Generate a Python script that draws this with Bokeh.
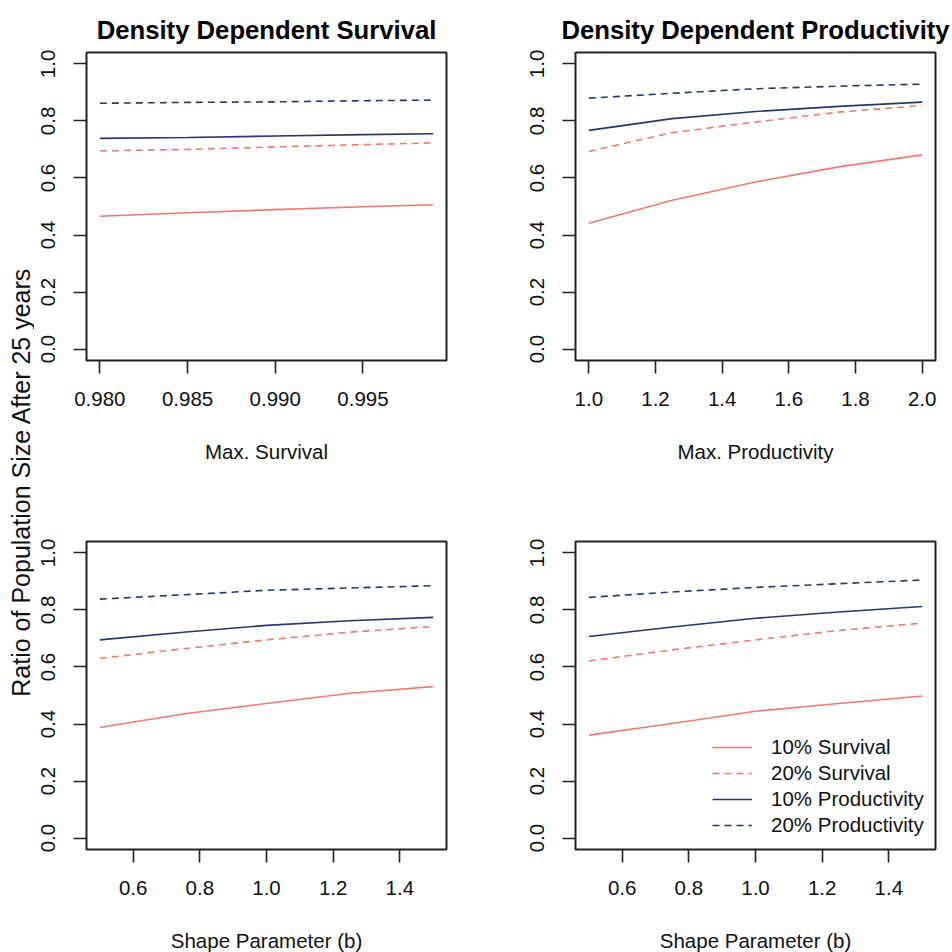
import math
from bokeh.plotting import figure
from bokeh.models import Range1d, FixedTicker, NumeralTickFormatter, Legend, LegendItem
from bokeh.layouts import row, column
from bokeh.embed import file_html
from bokeh.resources import INLINE
from bokeh.core.properties import value

FONT = "Liberation Sans"
SALMON = "#EE7B71"
NAVY = "#27366E"

# ---------------- data ----------------
series_labels = ["10% Survival", "20% Survival", "10% Productivity", "20% Productivity"]
y_label = "Ratio of Population Size After 25 years"
y_ticks = [0.0, 0.2, 0.4, 0.6, 0.8, 1.0]

# Panel 1: Density Dependent Survival
max_survival = [0.980, 0.985, 0.990, 0.995, 0.999]
ms_surv10 = [0.466, 0.478, 0.489, 0.499, 0.506]
ms_surv20 = [0.695, 0.700, 0.709, 0.717, 0.723]
ms_prod10 = [0.739, 0.742, 0.747, 0.752, 0.755]
ms_prod20 = [0.862, 0.865, 0.867, 0.871, 0.873]
ms_ticks = [0.980, 0.985, 0.990, 0.995]

# Panel 2: Density Dependent Productivity
max_productivity = [1.0, 1.25, 1.5, 1.75, 2.0]
mp_surv10 = [0.441, 0.522, 0.586, 0.639, 0.681]
mp_surv20 = [0.693, 0.759, 0.796, 0.831, 0.854]
mp_prod10 = [0.767, 0.808, 0.833, 0.851, 0.866]
mp_prod20 = [0.880, 0.897, 0.913, 0.922, 0.929]
mp_ticks = [1.0, 1.2, 1.4, 1.6, 1.8, 2.0]

# Panel 3: Shape parameter (survival)
shape_b = [0.5, 0.75, 1.0, 1.25, 1.5]
bs_surv10 = [0.388, 0.435, 0.472, 0.508, 0.531]
bs_surv20 = [0.630, 0.664, 0.695, 0.722, 0.742]
bs_prod10 = [0.695, 0.722, 0.746, 0.762, 0.774]
bs_prod20 = [0.838, 0.853, 0.869, 0.877, 0.885]

# Panel 4: Shape parameter (productivity)
bp_surv10 = [0.361, 0.402, 0.445, 0.472, 0.498]
bp_surv20 = [0.621, 0.660, 0.695, 0.728, 0.754]
bp_prod10 = [0.707, 0.740, 0.771, 0.793, 0.812]
bp_prod20 = [0.844, 0.863, 0.879, 0.892, 0.905]
b_ticks = [0.6, 0.8, 1.0, 1.2, 1.4]

series_colors = [SALMON, SALMON, NAVY, NAVY]
series_dash = ["solid", "7 5", "solid", "7 5"]


def pad_range(x):
    lo, hi = min(x), max(x)
    d = (hi - lo) * 0.04
    return lo - d, hi + d


def make_panel(x, ys, xticks, xfmt, title, xlabel, borders, legend=False):
    left, right, top, bottom = borders
    xr = pad_range(x)
    p = figure(frame_width=360, frame_height=308,
               min_border_left=left, min_border_right=right,
               min_border_top=top, min_border_bottom=bottom,
               x_range=Range1d(*xr), y_range=Range1d(-0.04, 1.04),
               toolbar_location=None, output_backend="svg",
               background_fill_color="white", border_fill_color="white")
    if title:
        p.title.text = title
        p.title.text_font = FONT
        p.title.text_font_size = "25.7px"
        p.title.text_font_style = "bold"
        p.title.text_color = "black"
        p.title.align = "center"
        p.title.standoff = 18
    p.grid.visible = False
    p.outline_line_color = "#222222"
    p.outline_line_width = 2

    for ax in (p.xaxis[0], p.yaxis[0]):
        ax.axis_line_color = None
        ax.major_tick_line_color = "#222222"
        ax.major_tick_line_width = 1.6
        ax.major_tick_out = 13
        ax.major_tick_in = 0
        ax.minor_tick_line_color = None
        ax.major_label_text_font = FONT
        ax.major_label_text_font_size = "20.5px"
        ax.major_label_text_color = "#111111"

    p.xaxis.ticker = FixedTicker(ticks=xticks)
    p.xaxis.formatter = NumeralTickFormatter(format=xfmt)
    p.xaxis.major_label_standoff = 18
    p.xaxis.axis_label = xlabel
    p.xaxis.axis_label_text_font = FONT
    p.xaxis.axis_label_text_font_size = "20.5px"
    p.xaxis.axis_label_text_font_style = "normal"
    p.xaxis.axis_label_text_color = "#111111"
    p.xaxis.axis_label_standoff = 31

    p.yaxis.ticker = FixedTicker(ticks=y_ticks)
    p.yaxis.formatter = NumeralTickFormatter(format="0.0")
    p.yaxis.major_label_orientation = "parallel"
    p.yaxis.major_label_standoff = 18

    renderers = []
    for yv, c, d in zip(ys, series_colors, series_dash):
        r = p.line(x, yv, line_color=c, line_width=1.6, line_dash=d)
        renderers.append(r)

    if legend:
        lg = Legend(items=[LegendItem(label=lbl, renderers=[r])
                           for lbl, r in zip(series_labels, renderers)],
                    location=(137, 12), border_line_color=None,
                    background_fill_alpha=0, padding=0, margin=0, spacing=2,
                    glyph_width=40, glyph_height=20, label_height=20,
                    label_standoff=19, label_text_font=FONT,
                    label_text_font_size="20.5px", label_text_color="#111111")
        p.add_layout(lg)
    return p


p1 = make_panel(max_survival, [ms_surv10, ms_surv20, ms_prod10, ms_prod20],
                ms_ticks, "0.000", "Density Dependent Survival", "Max. Survival",
                (52, 30, 52, 116))
p2 = make_panel(max_productivity, [mp_surv10, mp_surv20, mp_prod10, mp_prod20],
                mp_ticks, "0.0", "Density Dependent Productivity", "Max. Productivity",
                (99, 17, 52, 116))
p3 = make_panel(shape_b, [bs_surv10, bs_surv20, bs_prod10, bs_prod20],
                b_ticks, "0.0", None, "Shape Parameter (b)",
                (52, 30, 65, 103))
p4 = make_panel(shape_b, [bp_surv10, bp_surv20, bp_prod10, bp_prod20],
                b_ticks, "0.0", None, "Shape Parameter (b)",
                (99, 17, 65, 103), legend=True)

# strip carrying the shared y-axis label
strip = figure(width=34, height=952, x_range=Range1d(0, 34), y_range=Range1d(0, 952),
               min_border=0, toolbar_location=None, output_backend="svg",
               x_axis_location=None, y_axis_location=None,
               background_fill_color="white", border_fill_color="white")
strip.outline_line_color = None
strip.grid.visible = False
strip.text(x=[20.5], y=[470.5], text=[y_label], angle=math.pi / 2,
           text_align="center", text_baseline="alphabetic",
           text_font=value(FONT), text_font_size="25px", text_color="#111111")

layout = row(strip, column(row(p1, p2), row(p3, p4)))

open("out.html", "w").write(file_html(layout, INLINE))
